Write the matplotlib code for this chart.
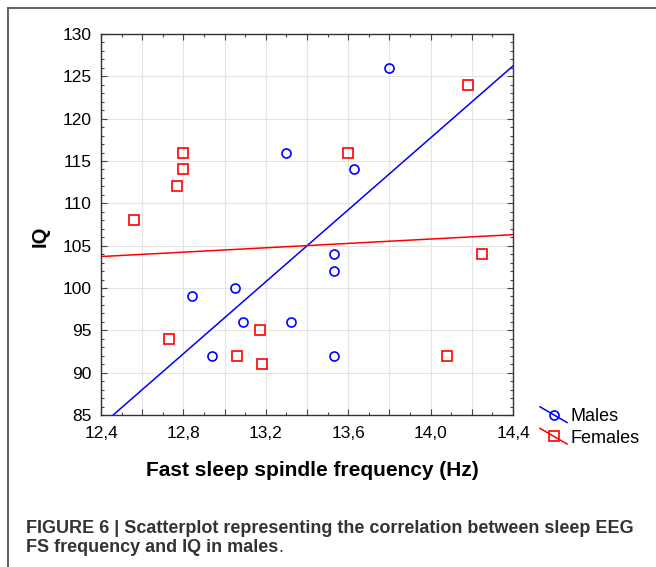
import numpy as np
import matplotlib
matplotlib.use('Agg')
import matplotlib.pyplot as plt
from matplotlib.ticker import MultipleLocator, FuncFormatter
from matplotlib.legend_handler import HandlerLine2D
from matplotlib.lines import Line2D

# fast sleep spindle frequency (Hz) vs IQ
males_freq = [13.80, 13.30, 13.63, 13.53, 13.53, 12.84, 13.05, 13.09, 13.32, 12.94, 13.53]
males_iq = [126, 116, 114, 104, 102, 99, 100, 96, 96, 92, 92]

females_freq = [14.18, 12.80, 12.80, 12.77, 12.56, 13.60, 12.73, 13.17, 13.06, 13.18, 14.08, 14.25]
females_iq = [124, 116, 114, 112, 108, 116, 94, 95, 92, 91, 92, 104]

x_range = [12.4, 14.4]
y_range = [85, 130]


class SlantHandler(HandlerLine2D):
    # statistica style legend key: line drawn from upper left to lower right
    def create_artists(self, legend, orig_handle, xdescent, ydescent,
                       width, height, fontsize, trans):
        arts = super().create_artists(legend, orig_handle, xdescent, ydescent,
                                      width, height, fontsize, trans)
        for a in arts:
            x = np.asarray(a.get_xdata(), dtype=float)
            ymid = (height - ydescent) / 2
            dy = 0.29 * width
            if x.max() > x.min():
                y = ymid + dy - 2 * dy * (x - x.min()) / (x.max() - x.min())
            else:
                y = np.full_like(x, ymid)
            a.set_data(x, y)
        return arts


def main():
    plt.rcParams['font.family'] = ['Liberation Sans', 'DejaVu Sans']

    W, H = 656, 567
    fig = plt.figure(figsize=(W / 100, H / 100), dpi=100)

    # frame round the figure (top and left rules)
    fig.add_artist(Line2D([8 / W, 8 / W], [0, 1 - 8 / H], color='#555555', lw=1.3))
    fig.add_artist(Line2D([8 / W, 1], [1 - 8 / H, 1 - 8 / H], color='#555555', lw=1.3))

    ax = fig.add_axes([101 / W, 1 - 415 / H, 412 / W, 381 / H])

    ax.plot(males_freq, males_iq, 'o', ls='none', ms=6.5, mfc='none',
            mec='#0000ff', mew=1.2, zorder=3)
    ax.plot(females_freq, females_iq, 's', ls='none', ms=6.5, mfc='none',
            mec='#ff0000', mew=1.2, zorder=3)

    xs = np.array(x_range)
    pm = np.polyfit(males_freq, males_iq, 1)
    pf = np.polyfit(females_freq, females_iq, 1)
    ax.plot(xs, np.polyval(pm, xs), color='#0000ff', lw=1.1, zorder=2)
    ax.plot(xs, np.polyval(pf, xs), color='#ff0000', lw=1.1, zorder=2)

    ax.set_xlim(x_range)
    ax.set_ylim(y_range)

    ax.xaxis.set_major_locator(MultipleLocator(0.2))
    ax.xaxis.set_minor_locator(MultipleLocator(0.1))
    ax.yaxis.set_major_locator(MultipleLocator(5))
    ax.yaxis.set_minor_locator(MultipleLocator(1))

    def xfmt(v, pos):
        k = int(round((v - 12.4) / 0.2))
        if k % 2:
            return ''
        return ('%.1f' % v).replace('.', ',')
    ax.xaxis.set_major_formatter(FuncFormatter(xfmt))
    ax.yaxis.set_major_formatter(FuncFormatter(lambda v, p: '%d' % v))

    ax.tick_params(which='both', direction='in', top=True, right=True,
                   color='#444444', width=0.8)
    ax.tick_params(which='major', length=4, labelsize=12.5)
    ax.tick_params(which='minor', length=2.5)
    ax.tick_params(axis='x', pad=8)
    ax.tick_params(axis='y', pad=7)

    ax.grid(True, which='major', color='#e4e4e4', lw=0.8, zorder=0)
    ax.set_axisbelow(True)
    for s in ax.spines.values():
        s.set_color('#333333')
        s.set_linewidth(1.0)

    fig.text(312 / W, 1 - 470 / H, 'Fast sleep spindle frequency (Hz)',
             ha='center', va='center', fontsize=15, fontweight='bold')
    fig.text(40 / W, 1 - 236 / H, 'IQ', ha='center', va='center',
             rotation=90, fontsize=14.5, fontweight='bold')

    h_m = Line2D([], [], color='#0000ff', marker='o', ms=6.5, mfc='none',
                 mec='#0000ff', mew=1.2, lw=1.1)
    h_f = Line2D([], [], color='#ff0000', marker='s', ms=6.5, mfc='none',
                 mec='#ff0000', mew=1.2, lw=1.1)
    fig.legend([h_m, h_f], ['Males', 'Females'], loc='upper left',
               bbox_to_anchor=(540 / W, 1 - 408 / H), frameon=False,
               fontsize=13, handlelength=1.5, handletextpad=0.2,
               labelspacing=0.25, borderpad=0, borderaxespad=0,
               numpoints=1, handler_map={Line2D: SlantHandler()})

    cap_font = ['Liberation Sans', 'DejaVu Sans']
    fig.text(26 / W, 1 - 533 / H,
             'FIGURE 6 | Scatterplot representing the correlation between sleep EEG',
             ha='left', va='baseline', fontsize=13, fontweight='bold',
             color='#333333', family=cap_font)
    t2 = fig.text(26 / W, 1 - 552 / H, 'FS frequency and IQ in males',
                  ha='left', va='baseline', fontsize=13, fontweight='bold',
                  color='#333333', family=cap_font)
    ax.annotate('.', xy=(1, 0), xycoords=t2, ha='left', va='bottom',
                fontsize=13, color='#333333', family=cap_font,
                annotation_clip=False)

    fig.savefig('out.png', dpi=100)


if __name__ == '__main__':
    main()
